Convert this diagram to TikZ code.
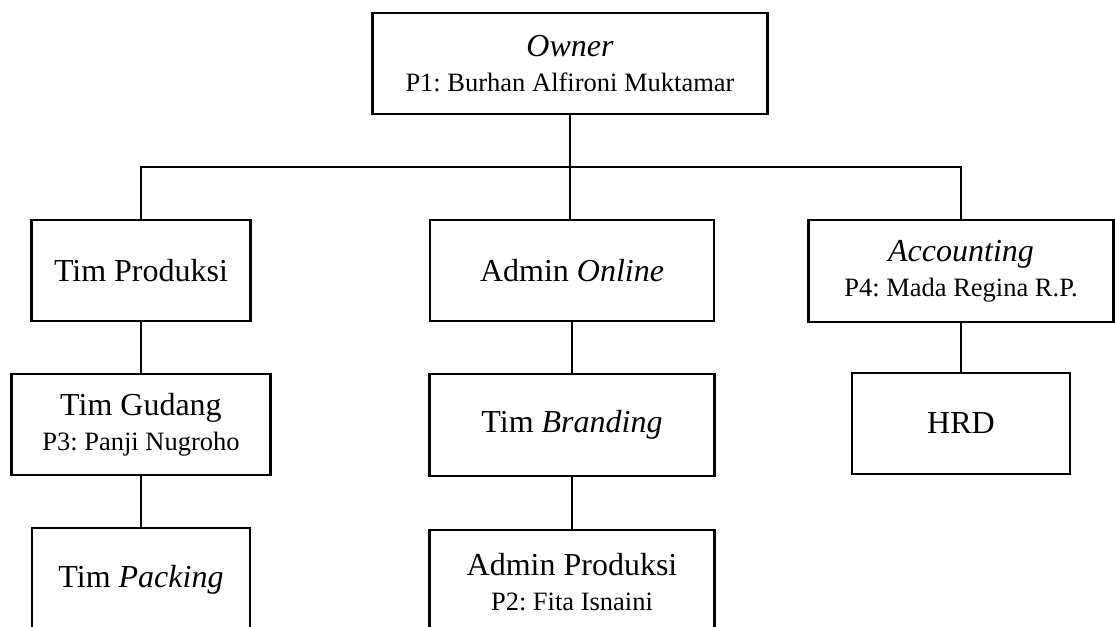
\documentclass[tikz,border=0pt]{standalone}
\usepackage{fontspec}
\setmainfont{Liberation Serif}
\frenchspacing
\begin{document}
\begin{tikzpicture}[x=1pt,y=-1pt,
  unitbox/.style={draw, line width=2.6pt, inner sep=0pt, align=center,
    minimum height=101pt, font=\fontsize{32}{35}\selectfont},
  link/.style={line width=2pt}]
\def\small#1{{\fontsize{26.5}{35}\selectfont #1}}
\clip (0,0) rectangle (1115,626);

% top
\node[unitbox, minimum width=395pt] (owner) at (570,63.5)
  {\textit{Owner}\\\small{P1: Burhan Alfironi Muktamar}};

% column one
\node[unitbox, minimum width=219pt] (produksi) at (141,270.5) {Tim Produksi};
\node[unitbox, minimum width=259pt] (gudang) at (141,424.5)
  {Tim Gudang\\\small{P3: Panji Nugroho}};
\node[unitbox, minimum width=218pt, minimum height=104pt] (packing) at (141,580) {Tim \textit{Packing}};

% column two
\node[unitbox, minimum width=284pt] (online) at (572,270.5) {Admin \textit{Online}};
\node[unitbox, minimum width=285pt, minimum height=102pt] (branding) at (572,425) {Tim \textit{Branding}};
\node[unitbox, minimum width=285pt, minimum height=104pt] (adminprod) at (572,582)
  {Admin Produksi\\\small{P2: Fita Isnaini}};

% column three
\node[unitbox, minimum width=305pt, minimum height=102pt] (accounting) at (961,271)
  {\textit{Accounting}\\\small{P4: Mada Regina R.P.}};
\node[unitbox, minimum width=218pt] (hrd) at (961,423.5) {HRD};

% lines
\coordinate (busL) at (141,167);
\coordinate (busR) at (961,167);
\draw[link] (owner.south) -- (owner.south |- online.north);
\draw[link] (produksi.north) -- (busL) -- (busR) -- (accounting.north);
\draw[link] (produksi) -- (gudang);
\draw[link] (gudang) -- (packing);
\draw[link] (online) -- (branding);
\draw[link] (branding) -- (adminprod);
\draw[link] (accounting) -- (hrd);
\end{tikzpicture}
\end{document}
